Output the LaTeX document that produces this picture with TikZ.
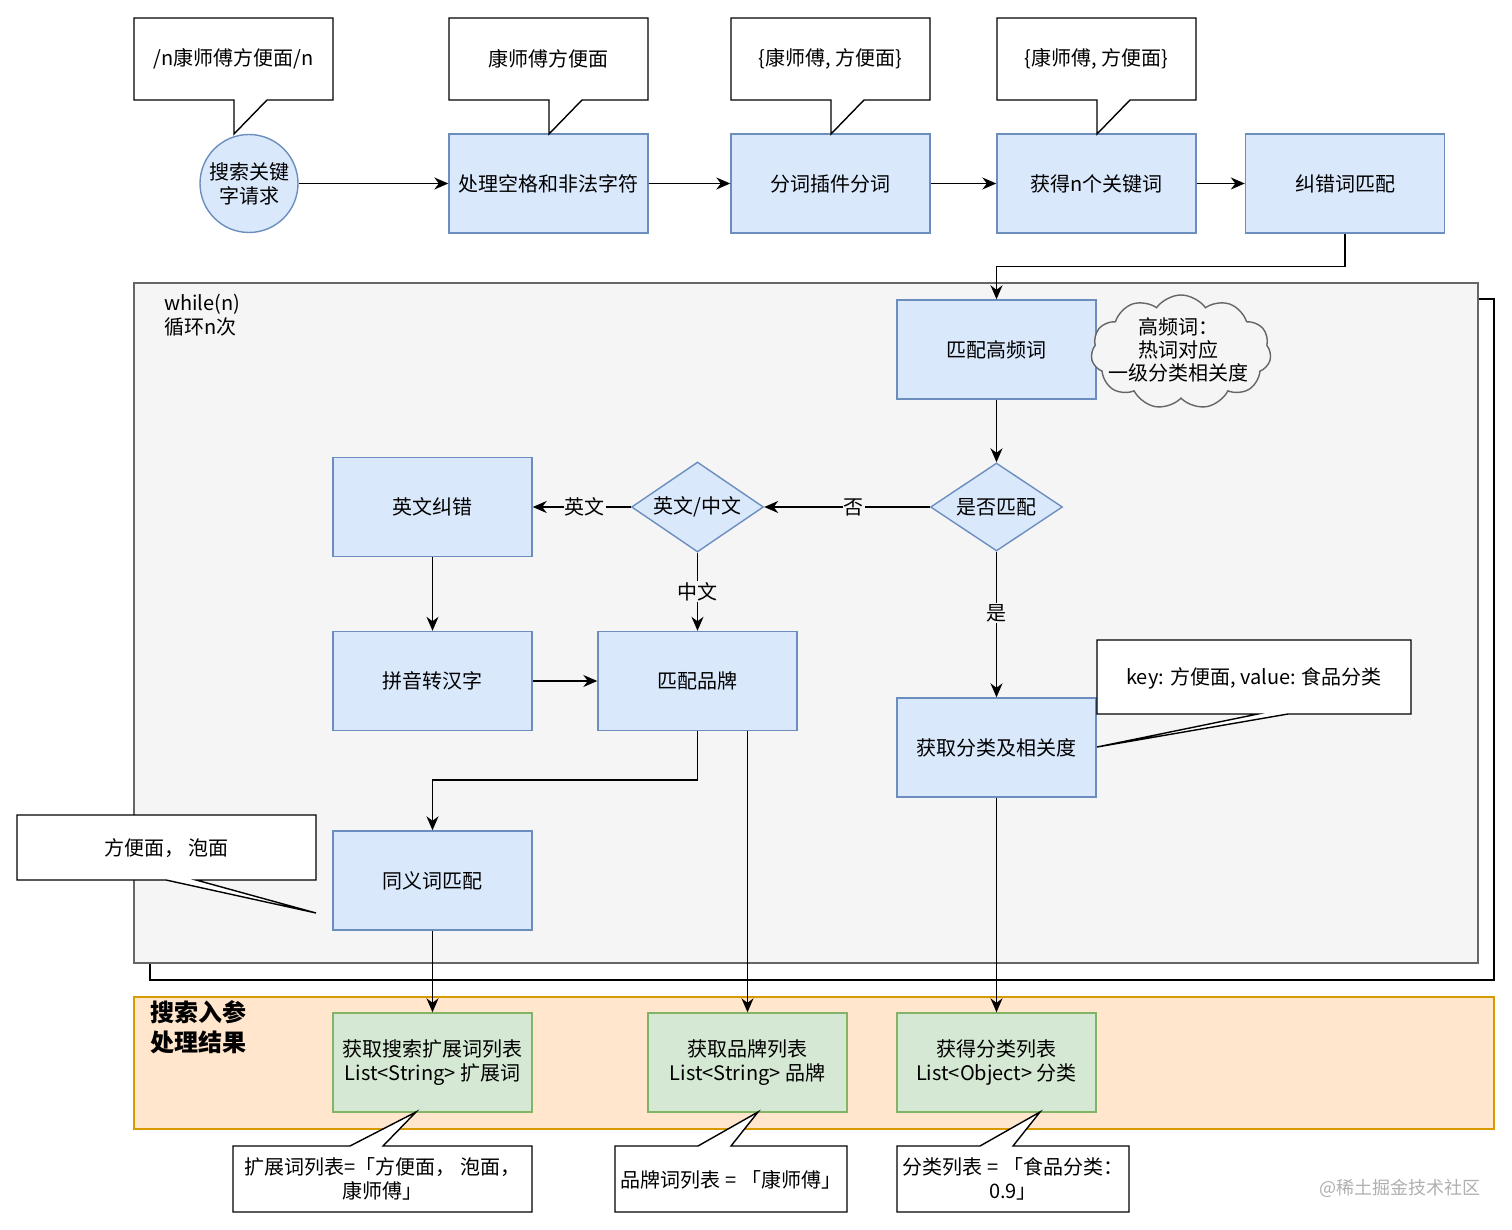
\documentclass[tikz,border=0pt]{standalone}
\usepackage{fontspec}
\setmainfont{Noto Sans CJK SC}
\usetikzlibrary{arrows.meta,shapes.geometric,shapes.symbols}
\definecolor{bfill}{HTML}{DAE8FC}
\definecolor{bdraw}{HTML}{6C8EBF}
\definecolor{gfill}{HTML}{F5F5F5}
\definecolor{gdraw}{HTML}{666666}
\definecolor{ofill}{HTML}{FFE6CC}
\definecolor{odraw}{HTML}{D79B00}
\definecolor{grfill}{HTML}{D5E8D4}
\definecolor{grdraw}{HTML}{82B366}
\definecolor{wmark}{HTML}{B0B0B0}
\tikzset{
  stepbox/.style={rectangle, draw=bdraw, fill=bfill, line width=1.4pt, minimum width=199pt, minimum height=99pt, inner sep=0pt, align=center},
  resbox/.style={rectangle, draw=grdraw, fill=grfill, line width=1.4pt, minimum width=199pt, minimum height=99pt, inner sep=0pt, align=center},
  decide/.style={diamond, aspect=1.5, draw=bdraw, fill=bfill, line width=1.4pt, minimum width=132pt, minimum height=88pt, inner sep=0pt, align=center},
  callout/.style={draw=black, fill=white, line width=1.4pt},
  ctext/.style={align=center, inner sep=0pt},
  arr/.style={draw=black, line width=1.5pt, -{Stealth[length=14pt,width=12pt,inset=4.5pt]}},
  elabel/.style={fill=gfill, inner sep=1pt},
}
\begin{document}
\begin{tikzpicture}[x=1pt,y=-1pt, font=\fontsize{20}{24}\selectfont]
\useasboundingbox (0,0) rectangle (1512,1230);
\fill[white] (0,0) rectangle (1512,1230);

% containers
\draw[line width=1.4pt] (1478,299) -- (1494,299) -- (1494,980) -- (150,980) -- (150,963);
\draw[draw=gdraw, fill=gfill, line width=1.4pt] (134,283) rectangle (1478,963);
\node[anchor=north west, align=left, inner sep=0pt] (looptxt) at (164,294) {while(n)\\循环n次};
\draw[draw=odraw, fill=ofill, line width=1.4pt] (134,997) rectangle (1494,1129);
\node[anchor=north west, align=left, inner sep=0pt, font=\fontsize{24}{30}\selectfont\bfseries] (restxt) at (150,1000) {搜索入参\\处理结果};

% top row
\node[circle, draw=bdraw, fill=bfill, line width=1.4pt, minimum size=98pt, inner sep=0pt, align=center] (req) at (249,183.5) {搜索关键\\字请求};
\node[stepbox] (clean) at (548.5,183.5) {处理空格和非法字符};
\node[stepbox] (seg) at (830.5,183.5) {分词插件分词};
\node[stepbox] (kw) at (1096.5,183.5) {获得n个关键词};
\node[stepbox] (corr) at (1345,183.5) {纠错词匹配};

% loop contents
\node[stepbox] (hf) at (996.5,349.5) {匹配高频词};
\node[cloud, cloud puffs=11, cloud puff arc=110, draw=gdraw, fill=gfill, line width=1.4pt, minimum width=180pt, minimum height=114pt, inner sep=0pt] (cloudshape) at (1181,352) {};
\node[ctext, font=\fontsize{20}{23}\selectfont] (cloudtxt) at (1178,350) {高频词：\\热词对应\\一级分类相关度};
\node[decide] (match) at (996.5,507) {是否匹配};
\node[decide, minimum height=90pt] (lang) at (697.5,507) {英文/中文};
\node[stepbox] (encorr) at (432.5,507) {英文纠错};
\node[stepbox] (pinyin) at (432.5,681) {拼音转汉字};
\node[stepbox] (brand) at (697.5,681) {匹配品牌};
\node[stepbox] (cat) at (996.5,747.5) {获取分类及相关度};
\node[stepbox] (syn) at (432.5,880.5) {同义词匹配};

% results
\node[resbox] (extlist) at (432.5,1062.5) {获取搜索扩展词列表\\List<String> 扩展词};
\node[resbox] (brandlist) at (747.5,1062.5) {获取品牌列表\\List<String> 品牌};
\node[resbox] (catlist) at (996.5,1062.5) {获得分类列表\\List<Object> 分类};

% connectors
\draw[arr] (req) -- (clean);
\draw[arr] (clean) -- (seg);
\draw[arr] (seg) -- (kw);
\draw[arr] (kw) -- (corr);
\draw[arr] (corr.south) -- ++(0,33) -| (hf.north);
\draw[arr] (hf) -- (match);
\draw[arr] (match) -- node[elabel, pos=0.46] {否} (lang);
\draw[arr] (lang) -- node[elabel, pos=0.47] {英文} (encorr);
\draw[arr] (lang) -- node[elabel, pos=0.5] {中文} (brand);
\draw[arr] (match) -- node[elabel, pos=0.42] {是} (cat);
\draw[arr] (encorr) -- (pinyin);
\draw[arr] (pinyin) -- (brand);
\draw[arr] (brand.south) -- ++(0,49) -| (syn.north);
\draw[arr] (syn) -- (extlist);
\draw[arr] (brandlist.north |- brand.south) -- (brandlist.north);
\draw[arr] (cat) -- (catlist);

% callouts top
\draw[callout] (134,18) -- (333,18) -- (333,100) -- (267,100) -- (234,134) -- (234,100) -- (134,100) -- cycle;
\node[ctext] (c1) at (233.5,59) {/n康师傅方便面/n};
\draw[callout] (449,18) -- (648,18) -- (648,100) -- (582,100) -- (549,134) -- (549,100) -- (449,100) -- cycle;
\node[ctext] (c2) at (548.5,59) {康师傅方便面};
\draw[callout] (731,18) -- (930,18) -- (930,100) -- (864,100) -- (831,134) -- (831,100) -- (731,100) -- cycle;
\node[ctext] (c3) at (830.5,59) {\{康师傅, 方便面\}};
\draw[callout] (997,18) -- (1196,18) -- (1196,100) -- (1130,100) -- (1097,134) -- (1097,100) -- (997,100) -- cycle;
\node[ctext] (c4) at (1096.5,59) {\{康师傅, 方便面\}};

% callout key
\draw[callout] (1097,640) -- (1411,640) -- (1411,714) -- (1288,714) -- (1097,747) -- (1258,714) -- (1097,714) -- cycle;
\node[ctext] (c5) at (1254,678) {key: 方便面, value: 食品分类};

% callout synonyms
\draw[callout] (17,815) -- (316,815) -- (316,880) -- (196,880) -- (316,913) -- (166,880) -- (17,880) -- cycle;
\node[ctext] (c6) at (166.5,848) {方便面， 泡面};

% bottom callouts
\draw[callout] (233,1146) -- (350,1146) -- (416,1112) -- (383,1146) -- (532,1146) -- (532,1212) -- (233,1212) -- cycle;
\node[ctext] (c7) at (382.5,1179) {扩展词列表=「方便面， 泡面，\\康师傅」};
\draw[callout] (615,1146) -- (698,1146) -- (758,1112) -- (731,1146) -- (847,1146) -- (847,1212) -- (615,1212) -- cycle;
\node[ctext] (c8) at (731,1180) {品牌词列表 = 「康师傅」};
\draw[callout] (897,1146) -- (980,1146) -- (1040,1112) -- (1013,1146) -- (1129,1146) -- (1129,1212) -- (897,1212) -- cycle;
\node[ctext] (c9) at (1013,1179) {分类列表 = 「食品分类：\\0.9」};

% watermark
\node[text=wmark, font=\fontsize{18}{20}\selectfont, inner sep=0pt] (wm) at (1400,1188) {@稀土掘金技术社区};
\end{tikzpicture}
\end{document}
